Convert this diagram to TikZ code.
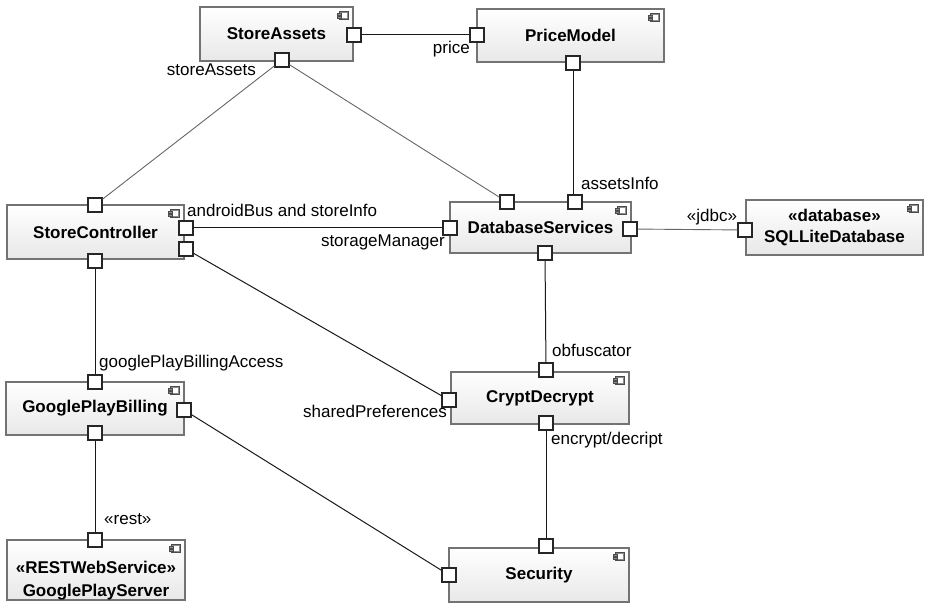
\documentclass[tikz,border=0pt]{standalone}
\usepackage{fontspec}
\setmainfont{Liberation Sans}
\usetikzlibrary{shadows}
\tikzset{
  comp/.style={rectangle, draw=black!55, line width=1.1pt, top color=white, bottom color=black!9,
    align=center, inner sep=0pt, font=\fontsize{17}{21}\selectfont\bfseries,
    drop shadow={opacity=0.18, shadow xshift=1pt, shadow yshift=-1pt}},
  port/.style={rectangle, draw=black!85, line width=1.1pt, fill=white, minimum size=14pt, inner sep=0pt},
  lbl/.style={inner sep=0pt, font=\fontsize{17}{21}\selectfont, text height=12.5pt, text depth=3.5pt},
  wire/.style={draw=black!90, line width=1pt},
  gwire/.style={draw=black!60, line width=0.9pt},
  iconbox/.style={draw=black!70, fill=black!45, line width=0.5pt}
}
\newcommand\compicon[1]{%
  \draw[iconbox] ([shift={(-14,5)}]#1.north east) rectangle ++(9,8);
  \fill[white] ([shift={(-12.5,6.5)}]#1.north east) rectangle ++(6,5);
  \draw[iconbox] ([shift={(-16,6.5)}]#1.north east) rectangle ++(4,2);
  \draw[iconbox] ([shift={(-16,9.5)}]#1.north east) rectangle ++(4,2);
}
\begin{document}
\begin{tikzpicture}[x=1pt, y=-1pt]
\useasboundingbox (0,0) rectangle (927,604);
% components
\node[comp, minimum width=153pt, minimum height=54pt] (sa) at (276.5,34) {StoreAssets};
\node[comp, minimum width=187pt, minimum height=53pt] (pm) at (570.5,35.5) {PriceModel};
\node[comp, minimum width=177pt, minimum height=54pt] (sc) at (95.5,232) {StoreController};
\node[comp, minimum width=181pt, minimum height=51pt] (db) at (540.5,227.5) {DatabaseServices};
\node[comp, minimum width=177pt, minimum height=55pt] (sql) at (834.5,227.5) {«database»\\SQLLiteDatabase};
\node[comp, minimum width=178pt, minimum height=53pt] (gpb) at (95,408.5) {GooglePlayBilling};
\node[comp, minimum width=178pt, minimum height=52pt] (cd) at (540,398) {CryptDecrypt};
\node[comp, minimum width=178pt, minimum height=60pt, text depth=0pt] (gps) at (96,570) {};
\node[font=\fontsize{17}{23}\selectfont\bfseries, align=center, inner sep=0pt] (gpst) at (96,581) {«RESTWebService»\\GooglePlayServer};
\node[comp, minimum width=180pt, minimum height=54pt] (sec) at (539,575) {Security};
\foreach \c in {sa,pm,sc,db,sql,gpb,cd,gps,sec} {\compicon{\c}}
% ports
\node[port] (saR) at (354,35) {};
\node[port] (saB) at (282,60) {};
\node[port] (pmL) at (477,35) {};
\node[port] (pmB) at (573,63) {};
\node[port] (scT) at (95,205) {};
\node[port] (scR1) at (186,228) {};
\node[port] (scR2) at (186,249) {};
\node[port] (scB) at (95,261) {};
\node[port] (dbL) at (450,228) {};
\node[port] (dbT1) at (507,202) {};
\node[port] (dbT2) at (575,202) {};
\node[port] (dbR) at (630,229) {};
\node[port] (dbB) at (545,253) {};
\node[port] (sqlL) at (745,230) {};
\node[port] (gpbT) at (95,382) {};
\node[port] (gpbR) at (184,410) {};
\node[port] (gpbB) at (95,433) {};
\node[port] (cdL) at (449,400) {};
\node[port] (cdT) at (546,370) {};
\node[port] (cdB) at (546,423) {};
\node[port] (secT) at (546,546) {};
\node[port] (secL) at (449,575) {};
\node[port] (gpsT) at (95,540) {};
% connectors
\draw[wire] (saR) -- (pmL);
\draw[gwire] (saB) -- (scT);
\draw[gwire] (saB) -- (dbT1);
\draw[wire] (pmB.south) -- (pmB.south |- dbT2.north);
\draw[wire] (scR1) -- (dbL);
\draw[wire] (scR2) -- (cdL);
\draw[wire] (scB) -- (gpbT);
\draw[gwire] (dbR) -- (sqlL);
\draw[wire] (dbB) -- (cdT);
\draw[wire] (cdB) -- (secT);
\draw[wire] (gpbR) -- (secL);
\draw[wire] (gpbB) -- (gpsT);
% labels
\node[lbl, anchor=east] (l1) at (256,71) {storeAssets};
\node[lbl, anchor=east] (l2) at (470,49) {price};
\node[lbl, anchor=west] (l3) at (581,185) {assetsInfo};
\node[lbl, anchor=west] (l4) at (187,212) {androidBus and storeInfo};
\node[lbl, anchor=east] (l5) at (445,242) {storageManager};
\node[lbl] (l6) at (712,217) {«jdbc»};
\node[lbl, anchor=west] (l7) at (552,352) {obfuscator};
\node[lbl, anchor=west] (l8) at (99,363) {googlePlayBillingAccess};
\node[lbl, anchor=east] (l9) at (447,413) {sharedPreferences};
\node[lbl, anchor=west] (l10) at (551,440) {encrypt/decript};
\node[lbl, anchor=west] (l11) at (104,520) {«rest»};
\end{tikzpicture}
\end{document}
